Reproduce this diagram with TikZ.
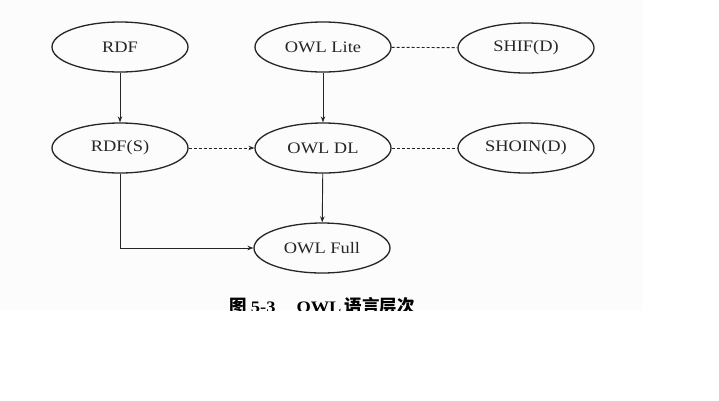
\documentclass[tikz,border=0pt]{standalone}
\usepackage{fontspec}
\setmainfont{Liberation Serif}[FakeStretch=1.15]
\newfontfamily\cjk{Noto Sans CJK SC}
\usetikzlibrary{shapes.geometric,arrows.meta}
\begin{document}
\begin{tikzpicture}[x=1pt,y=-1pt,
  nd/.style={ellipse,draw=black!85,line width=1.3pt,minimum width=136pt,minimum height=50pt,inner sep=0pt,font=\fontsize{16}{18}\selectfont,text=black!85},
  link/.style={draw=black!85,line width=0.9pt},
  arr/.style={link,-{Stealth[length=6pt,width=4.5pt]}},
  dsh/.style={link,dash pattern=on 3pt off 2pt}]
\useasboundingbox (0,0) rectangle (719,400);
\fill[black!1] (0,0) rectangle (642,310);
\node[nd] (rdf) at (120,47) {RDF};
\node[nd] (lite) at (323,47) {OWL Lite};
\node[nd] (shif) at (526,48) {SHIF(D)};
\node[nd] (rdfs) at (120,148) {RDF(S)};
\node[nd] (dl) at (323,148) {OWL DL};
\node[nd] (shoin) at (526,148) {SHOIN(D)};
\node[nd] (full) at (322,248) {OWL Full};
\draw[arr] (rdf) -- (rdfs);
\draw[arr] (lite) -- (dl);
\draw[arr] (dl) -- (full);
\draw[dsh,arr] (rdfs) -- (dl);
\draw[dsh] (lite) -- (shif);
\draw[dsh] (dl) -- (shoin);
\draw[arr] (rdfs.south) |- (full.west);
\begin{scope}
\clip (0,0) rectangle (642,310);
\node[anchor=base,inner sep=0pt,font=\fontsize{16}{18}\selectfont\bfseries] (cap) at (322,312)
  {{\cjk\bfseries\fontsize{17.5}{18}\selectfont 图}\hspace{4pt}5-3\hspace{21pt}OWL\hspace{3pt}{\cjk\bfseries\fontsize{17.5}{18}\selectfont 语言层次}};
\end{scope}
\end{tikzpicture}
\end{document}
